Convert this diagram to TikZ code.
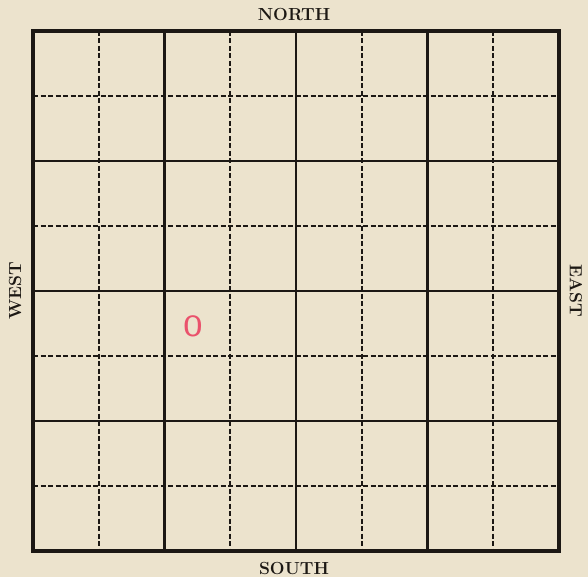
\documentclass[tikz,border=0pt]{standalone}
\usepackage{fontspec}
\setmainfont{Latin Modern Roman}
\definecolor{paper}{RGB}{236,227,205}
\definecolor{ink}{RGB}{28,24,20}
\definecolor{redpen}{RGB}{234,82,108}
\begin{document}
\begin{tikzpicture}[x=1pt,y=-1pt,
  solidline/.style={draw=ink,line width=2.7pt},
  dashline/.style={draw=ink,line width=1.9pt,dash pattern=on 5pt off 2.5pt},
  border/.style={draw=ink,line width=3.4pt},
  compass/.style={font=\fontsize{17.5}{19}\selectfont\bfseries,text=ink,inner sep=0pt}]
\fill[paper] (0,0) rectangle (588,577);
\useasboundingbox (0,0) rectangle (588,577);
% vertical lines
\foreach \i in {1,3,5,7} {\draw[dashline] ({33+65.75*\i},31) -- ({33+65.75*\i},551);}
\foreach \i in {2,4,6} {\draw[solidline] ({33+65.75*\i},31) -- ({33+65.75*\i},551);}
% horizontal lines
\foreach \j in {1,3,5,7} {\draw[dashline] (33,{31+65*\j}) -- (559,{31+65*\j});}
\foreach \j in {2,4,6} {\draw[solidline] (33,{31+65*\j}) -- (559,{31+65*\j});}
\draw[border] (33,31) rectangle (559,551);
\node[compass] (north) at (294,15) {NORTH};
\node[compass] (south) at (294,568) {SOUTH};
\node[compass,rotate=90] (west) at (15,291) {WEST};
\node[compass,rotate=-90] (east) at (576,291) {EAST};
\node[text=redpen,font=\fontsize{31}{31}\selectfont\sffamily,inner sep=0pt,xscale=1.35] (mark0) at (193,326) {0};
\end{tikzpicture}
\end{document}
